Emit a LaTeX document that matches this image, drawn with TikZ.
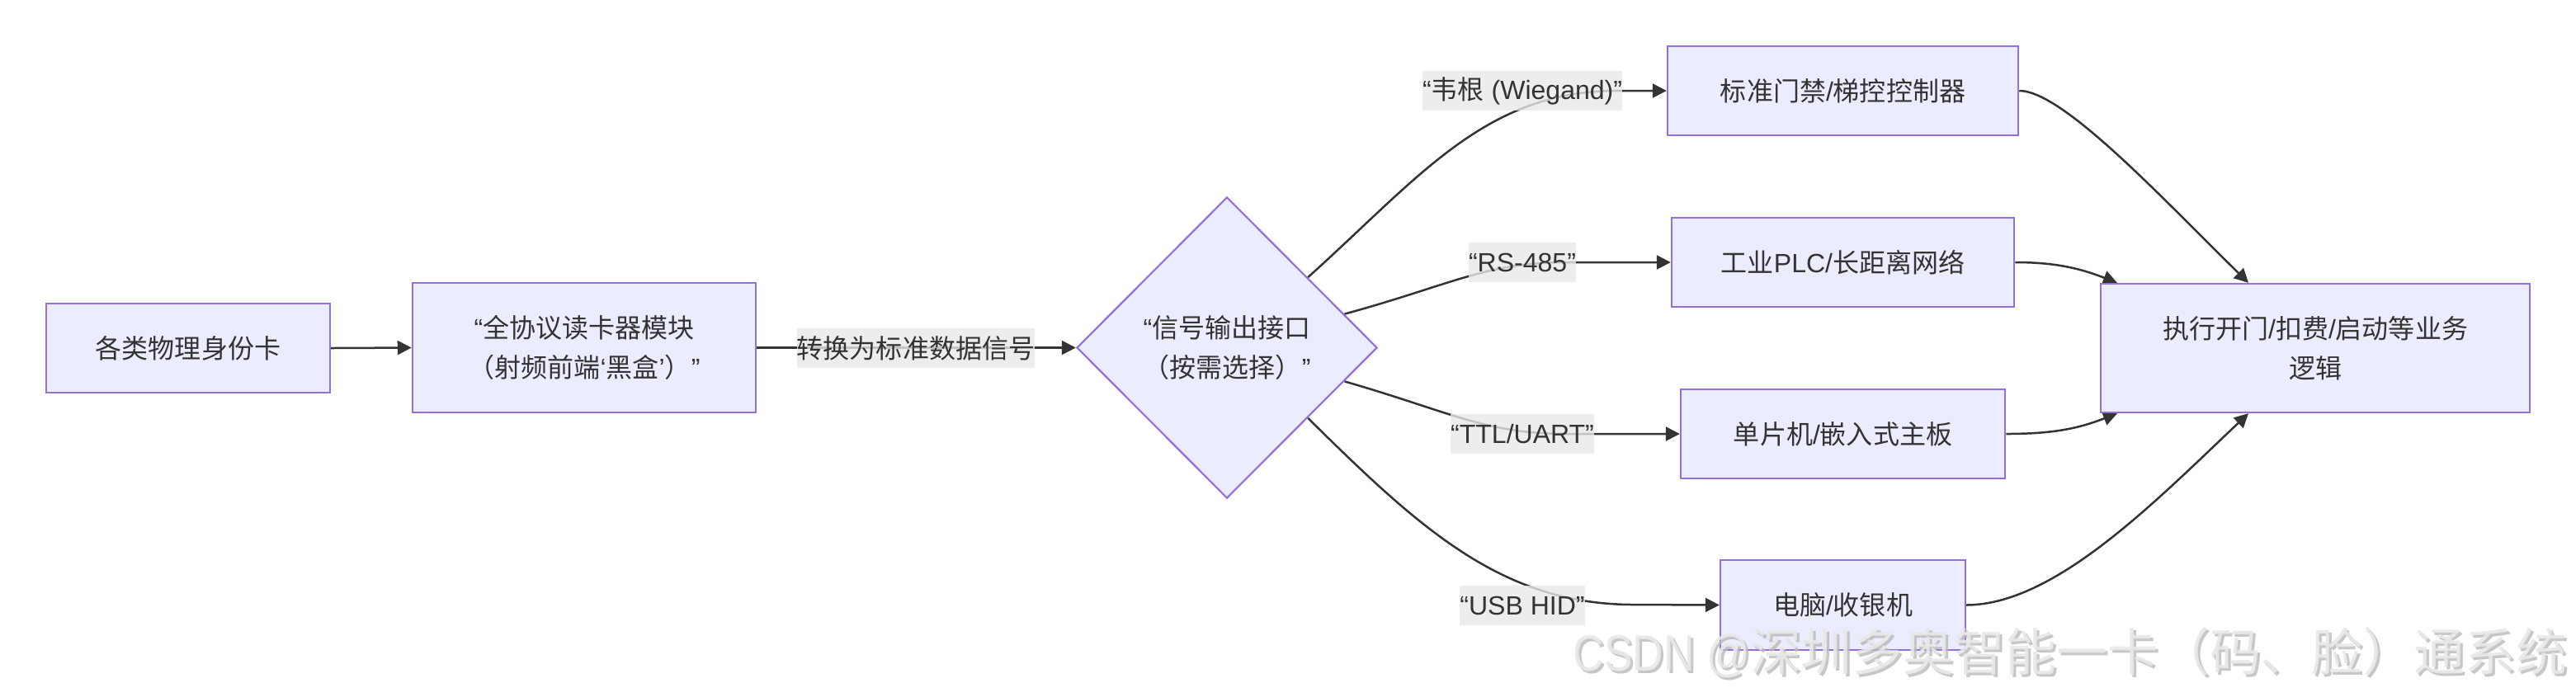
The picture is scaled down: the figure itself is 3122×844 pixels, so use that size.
\documentclass[tikz,border=0pt]{standalone}
\usepackage{fontspec}
\setmainfont{Liberation Sans}
\newfontfamily\cjk{Noto Sans CJK SC}
\usetikzlibrary{shapes.geometric,arrows.meta,calc}
\definecolor{boxfill}{HTML}{ECECFF}
\definecolor{boxline}{HTML}{9370DB}
\definecolor{ink}{HTML}{333333}
\definecolor{lblbg}{HTML}{E8E8E8}
\pgfdeclarelayer{bg}
\pgfsetlayers{bg,main}
\newcommand{\wmtext}{\scalebox{0.84}[1]{CSDN @}{\cjk 深圳多奥智能一卡（码、脸）通系统}}
\begin{document}
\begin{tikzpicture}[x=0.01cm,y=-0.01cm,
  font=\fontsize{9.106pt}{13.66pt}\selectfont,
  box/.style={draw=boxline, fill=boxfill, line width=0.022cm, text=ink, align=center, inner sep=0pt},
  dec/.style={box, shape=diamond},
  lbl/.style={fill=lblbg, fill opacity=0.8, text opacity=1, text=ink, inner xsep=0pt, inner ysep=0pt, minimum height=0.48cm},
  conn/.style={draw=ink, line width=0.025cm, -{Triangle[length=0.17cm,width=0.17cm]}},
  wmark/.style={anchor=east, inner sep=0pt, font=\fontsize{17.6pt}{20pt}\selectfont}]

\useasboundingbox (0,0) rectangle (3122,844);

% nodes
\node[box, minimum width=3.44cm, minimum height=1.08cm] (A) at (228,422) {{\cjk 各类物理身份卡}};
\node[box, minimum width=4.16cm, minimum height=1.57cm] (B) at (708,421.5) {“{\cjk 全协议读卡器模块}\\{\cjk （射频前端}‘{\cjk 黑盒}’{\cjk ）}”};
\node[dec, minimum width=3.64cm, minimum height=3.65cm] (Dia) at (1487,421.5) {“{\cjk 信号输出接口}\\{\cjk （按需选择）}”};
\node[box, minimum width=4.25cm, minimum height=1.08cm] (Cn) at (2233.5,110) {{\cjk 标准门禁}/{\cjk 梯控控制器}};
\node[box, minimum width=4.15cm, minimum height=1.08cm] (Dn) at (2233.5,318) {{\cjk 工业}PLC/{\cjk 长距离网络}};
\node[box, minimum width=3.93cm, minimum height=1.08cm] (En) at (2233.5,526) {{\cjk 单片机}/{\cjk 嵌入式主板}};
\node[box, minimum width=2.97cm, minimum height=1.09cm] (Fn) at (2233.5,733.5) {{\cjk 电脑}/{\cjk 收银机}};
\node[box, minimum width=5.20cm, minimum height=1.56cm] (G) at (2806,422) {{\cjk 执行开门}/{\cjk 扣费}/{\cjk 启动等业务}\\{\cjk 逻辑}};

% edge labels
\node[lbl] (l0) at (1110,422) {{\cjk 转换为标准数据信号}};
\node[lbl] (l1) at (1845,110) {“{\cjk 韦根} (Wiegand)”};
\node[lbl] (l2) at (1845,318) {“RS-485”};
\node[lbl] (l3) at (1845,526) {“TTL/UART”};
\node[lbl] (l4) at (1845,734) {“USB HID”};

% connectors
\begin{pgfonlayer}{bg}
\draw[conn] (A.east) -- (B.west);
\draw[conn] (B.east) -- (Dia.west);
\draw[conn] (Dia.41) .. controls (1720,215) and (1800,110) .. (1960,110) -- (Cn.west);
\draw[conn] (Dia.16) .. controls (1760,345) and (1800,318) .. (1900,318) -- (Dn.west);
\draw[conn] (Dia.-16) .. controls (1760,500) and (1800,526) .. (1900,526) -- (En.west);
\draw[conn] (Dia.-41) .. controls (1720,640) and (1820,733) .. (1980,733) -- (Fn.west);
\draw[conn] (Cn.east) .. controls (2500,110) and (2620,240) .. ($(G.north)+(-81,0)$);
\draw[conn] (Dn.east) .. controls (2490,318) and (2520,325) .. ($(G.north)+(-240,0)$);
\draw[conn] (En.east) .. controls (2490,526) and (2520,519) .. ($(G.south)+(-240,0)$);
\draw[conn] (Fn.east) .. controls (2490,733) and (2610,610) .. ($(G.south)+(-81,0)$);
\end{pgfonlayer}

% watermark
\node[wmark, text=gray!55, opacity=0.8] (wms) at (3115,794) {\wmtext};
\node[wmark, text=gray!18, opacity=0.9] (wm) at (3112,791) {\wmtext};
\end{tikzpicture}
\end{document}
